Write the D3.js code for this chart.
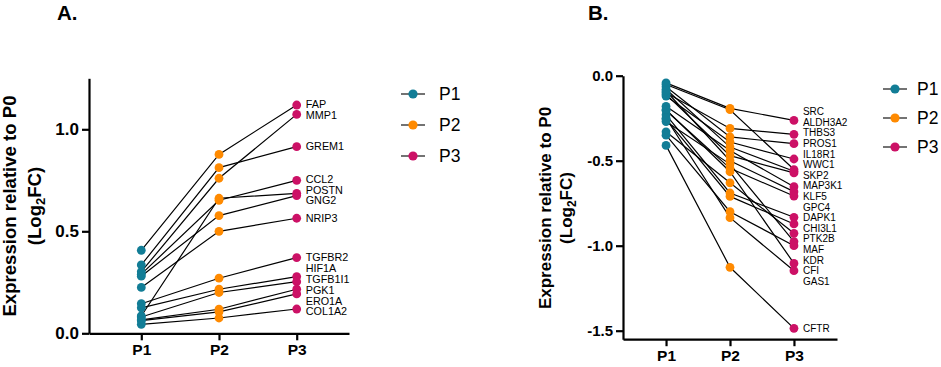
<!DOCTYPE html>
<html>
<head>
<meta charset="utf-8">
<script src="https://cdn.jsdelivr.net/npm/d3@7"></script>
<style>
  body { margin: 0; background: #fff; }
  text { font-family: "Liberation Sans", Arial, sans-serif; }
</style>
</head>
<body>
<svg id="chart" width="941" height="367"></svg>
<script>
var categories = ["P1", "P2", "P3"];
var colors = ["#127d96", "#ff8a00", "#cc1166"];

// panel A - upregulated genes
var genesA = ["FAP", "MMP1", "GREM1", "CCL2", "POSTN", "GNG2", "NRIP3",
    "TGFBR2", "HIF1A", "TGFB1I1", "PGK1", "ERO1A", "COL1A2"];
var p1A = [0.407, 0.302, 0.335, 0.290, 0.085, 0.280, 0.225, 0.145, 0.125, 0.080, 0.066, 0.062, 0.044];
var p2A = [0.877, 0.760, 0.812, 0.652, 0.662, 0.577, 0.500, 0.270, 0.216, 0.200, 0.118, 0.105, 0.075];
var p3A = [1.119, 1.073, 0.915, 0.750, 0.686, 0.675, 0.564, 0.371, 0.278, 0.253, 0.216, 0.193, 0.119];
var ticksA = [0, 0.5, 1.0];

// panel B - downregulated genes
var genesB = ["SRC", "ALDH3A2", "THBS3", "PROS1", "IL18R1", "WWC1", "SKP2", "MAP3K1", "KLF5",
    "GPC4", "DAPK1", "CHI3L1", "PTK2B", "MAF", "KDR", "CFI", "GAS1", "CFTR"];
var p1B = [-0.042, -0.100, -0.065, -0.120, -0.052, -0.080, -0.110, -0.180, -0.090,
    -0.205, -0.230, -0.255, -0.330, -0.270, -0.350, -0.200, -0.250, -0.410];
var p2B = [-0.192, -0.310, -0.360, -0.390, -0.200, -0.420, -0.470, -0.440, -0.500,
    -0.545, -0.690, -0.710, -0.630, -0.520, -0.800, -0.565, -0.835, -1.127];
var p3B = [-0.263, -0.345, -0.400, -0.490, -0.552, -0.562, -0.572, -0.653, -0.682,
    -0.708, -0.833, -0.872, -0.927, -0.976, -1.000, -1.104, -1.147, -1.486];
var ticksB = [0, -0.5, -1.0, -1.5];

var svg = d3.select("#chart");

// push labels apart so they don't overlap
function spread(ys, gap) {
    var order = ys.map(function (d, i) { return i; }).sort(function (a, b) { return ys[a] - ys[b]; });
    var pos = order.map(function (i) { return ys[i]; });
    for (var it = 0; it < 400; it++) {
        for (var k = 1; k < pos.length; k++) {
            var d = pos[k] - pos[k - 1];
            if (d < gap) {
                var s = (gap - d) / 2;
                pos[k - 1] -= s;
                pos[k] += s;
            }
        }
    }
    var out = [];
    order.forEach(function (i, k) { out[i] = pos[k]; });
    return out;
}

function drawPanel(cfg) {
    var g = svg.append("g");

    var x = d3.scalePoint().domain(categories).range([cfg.left, cfg.right]).padding(0.673);
    var y = d3.scaleLinear().domain(cfg.domain).range([cfg.bottom, cfg.top]);

    var rows = cfg.genes.map(function (name, i) {
        return {name: name, vals: [cfg.p1[i], cfg.p2[i], cfg.p3[i]]};
    });

    // panel letter
    g.append("text")
        .attr("x", cfg.letterX).attr("y", 20)
        .attr("font-size", 20.5).attr("font-weight", "bold")
        .text(cfg.letter);

    // y axis
    var yAxis = g.append("g")
        .attr("transform", "translate(" + cfg.left + ",0)")
        .call(d3.axisLeft(y).tickValues(cfg.ticks).tickSize(7).tickSizeOuter(0).tickPadding(3)
            .tickFormat(function (d) { return d.toFixed(1); }));

    // x axis
    var xAxis = g.append("g")
        .attr("transform", "translate(0," + y(cfg.xAxisAt) + ")")
        .call(d3.axisBottom(x).tickSize(7).tickSizeOuter(0).tickPadding(4));

    [yAxis, xAxis].forEach(function (ax) {
        ax.select(".domain").attr("stroke", "#000").attr("stroke-width", 2.2);
        ax.selectAll(".tick line").attr("stroke", "#000").attr("stroke-width", 2.2);
        ax.selectAll(".tick text")
            .attr("fill", "#000")
            .attr("font-family", "Liberation Sans, Arial, sans-serif")
            .attr("font-weight", "bold");
    });
    yAxis.selectAll(".tick text").attr("font-size", cfg.tickSize);
    xAxis.selectAll(".tick text").attr("font-size", 15.5);

    // axis title
    var title = g.append("text")
        .attr("transform", "translate(" + cfg.titleX + "," + cfg.titleY + ") rotate(-90)")
        .attr("text-anchor", "middle")
        .attr("font-size", cfg.titleSize)
        .attr("font-weight", "bold");
    title.append("tspan").attr("x", 0).attr("y", 0).text("Expression relative to P0");
    title.append("tspan").attr("x", 0).attr("y", cfg.titleLead).text("(Log");
    title.append("tspan").attr("font-size", cfg.titleSize * 0.7).attr("dy", 4).text("2");
    title.append("tspan").attr("dy", -4).text("FC)");

    // connecting lines
    var line = d3.line()
        .x(function (d, i) { return x(categories[i]); })
        .y(function (d) { return y(d); });

    g.selectAll(".link")
        .data(rows)
        .enter()
        .append("path")
        .attr("class", "link")
        .attr("fill", "none")
        .attr("stroke", "#000")
        .attr("stroke-width", 1.2)
        .attr("d", function (d) { return line(d.vals); });

    // dots, one pass per passage
    categories.forEach(function (c, j) {
        g.selectAll(".dot" + j)
            .data(rows)
            .enter()
            .append("circle")
            .attr("class", "dot" + j)
            .attr("cx", x(c))
            .attr("cy", function (d) { return y(d.vals[j]); })
            .attr("r", 4.4)
            .attr("fill", colors[j]);
    });

    // gene names at the P3 end
    var labelY = spread(rows.map(function (d) { return y(d.vals[2]); }), cfg.gap);
    g.selectAll(".gene")
        .data(rows)
        .enter()
        .append("text")
        .attr("class", "gene")
        .attr("x", x("P3") + 9)
        .attr("y", function (d, i) { return labelY[i]; })
        .attr("dy", "0.35em")
        .attr("font-size", cfg.geneSize)
        .text(function (d) { return d.name; });

    // legend
    var leg = g.selectAll(".leg")
        .data(categories)
        .enter()
        .append("g")
        .attr("class", "leg")
        .attr("transform", function (d, i) {
            return "translate(" + cfg.legX + "," + (cfg.legY + i * cfg.legStep) + ")";
        });
    leg.append("line")
        .attr("x1", -12).attr("x2", 12)
        .attr("stroke", "#000").attr("stroke-width", 1.1);
    leg.append("circle")
        .attr("r", 4.6)
        .attr("fill", function (d, i) { return colors[i]; });
    leg.append("text")
        .attr("x", cfg.legText)
        .attr("dy", "0.36em")
        .attr("font-size", 17.5)
        .text(function (d) { return d; });
}

drawPanel({
    letter: "A.", letterX: 57,
    genes: genesA, p1: p1A, p2: p2A, p3: p3A, ticks: ticksA,
    domain: [0, 1.25], xAxisAt: 0,
    left: 89, right: 349, top: 78.3, bottom: 333.3,
    titleX: 16, titleY: 206, titleSize: 18.6, titleLead: 24.5, tickSize: 17,
    gap: 10.8, geneSize: 10.8,
    legX: 413, legY: 94, legStep: 31, legText: 26
});

drawPanel({
    letter: "B.", letterX: 588,
    genes: genesB, p1: p1B, p2: p2B, p3: p3B, ticks: ticksB,
    domain: [-1.55, 0], xAxisAt: -1.55,
    left: 623, right: 837, top: 75.7, bottom: 339.2,
    titleX: 551, titleY: 208, titleSize: 17, titleLead: 21, tickSize: 15,
    gap: 10.6, geneSize: 10,
    legX: 895, legY: 89, legStep: 29, legText: 22
});
</script>
</body>
</html>
